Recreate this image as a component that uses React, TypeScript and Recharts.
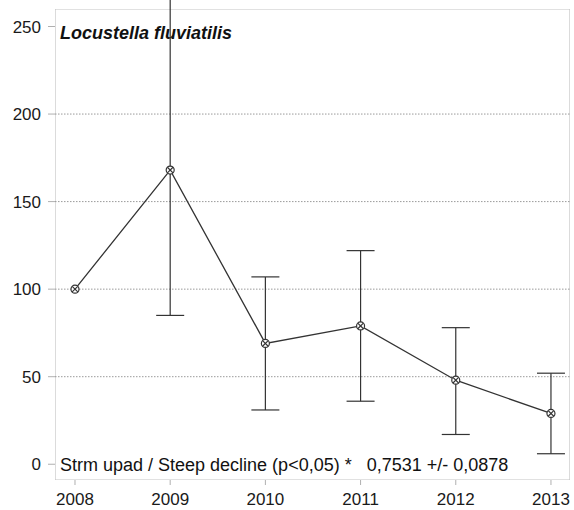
import React from "react";
import { ErrorBar, LineChart, Line, ReferenceArea, ReferenceLine, XAxis, YAxis } from "recharts";

const years = [2008, 2009, 2010, 2011, 2012, 2013];
const index = [100, 168, 69, 79, 48, 29];
const upper = [null, 300, 107, 122, 78, 52];
const lower = [null, 85, 31, 36, 17, 6];
const yTicks = [0, 50, 100, 150, 200, 250];
const gridValues = [50, 100, 150, 200];

const data = years.map((year, i) => ({
  year,
  value: index[i],
  err: upper[i] == null ? null : [index[i] - (lower[i] as number), (upper[i] as number) - index[i]],
}));

const X_DOMAIN: [number, number] = [2007.79, 2013.2];
const Y_DOMAIN: [number, number] = [-9, 260];

const font = "Liberation Sans, Arial, sans-serif";
const tickStyle = { fill: "#1a1a1a", fontSize: 17, fontFamily: font };

function CrossDot(props: any) {
  const { cx, cy } = props;
  if (cx == null || cy == null) return null;
  const d = 2.8;
  return (
    <g stroke="#333" strokeWidth={1.2} fill="#fff">
      <circle cx={cx} cy={cy} r={4} />
      <line x1={cx - d} y1={cy - d} x2={cx + d} y2={cy + d} />
      <line x1={cx - d} y1={cy + d} x2={cx + d} y2={cy - d} />
    </g>
  );
}

export default function App() {
  return (
    <div style={{ position: "absolute", left: 0, top: 0, background: "#fff" }}>
      <LineChart width={574} height={510} data={data} margin={{ top: 9, right: 4, bottom: 0, left: 0 }}>
        <ReferenceArea x1={X_DOMAIN[0]} x2={X_DOMAIN[1]} y1={Y_DOMAIN[0]} y2={Y_DOMAIN[1]} fill="none" stroke="#c4c4c4" strokeWidth={1.2} ifOverflow="hidden" />
        {gridValues.map((v) => (
          <ReferenceLine key={v} y={v} stroke="#9a9a9a" strokeDasharray="1.5 1.5" strokeWidth={1} />
        ))}
        <XAxis
          type="number"
          dataKey="year"
          domain={X_DOMAIN}
          ticks={years}
          allowDataOverflow
          axisLine={false}
          tickLine={{ stroke: "#b0b0b0" }}
          tickSize={5}
          tickMargin={8}
          height={30}
          tick={tickStyle}
        />
        <YAxis
          type="number"
          domain={Y_DOMAIN}
          ticks={yTicks}
          allowDataOverflow
          axisLine={false}
          tickLine={{ stroke: "#b0b0b0" }}
          tickSize={7}
          tickMargin={7}
          width={55}
          tick={tickStyle}
        />
        <Line
          dataKey="value"
          stroke="#333"
          strokeWidth={1.3}
          dot={<CrossDot />}
          isAnimationActive={false}
        >
          <ErrorBar dataKey="err" width={14} stroke="#333" strokeWidth={1.2} direction="y" />
        </Line>
        <text x={60} y={39} fontSize={18} fontWeight="bold" fontStyle="italic" fill="#111" fontFamily={font}>
          Locustella fluviatilis
        </text>
        <text x={60} y={471} fontSize={18} fill="#111" fontFamily={font} xmlSpace="preserve">
          {"Strm upad / Steep decline (p<0,05) *   0,7531 +/- 0,0878"}
        </text>
      </LineChart>
    </div>
  );
}
